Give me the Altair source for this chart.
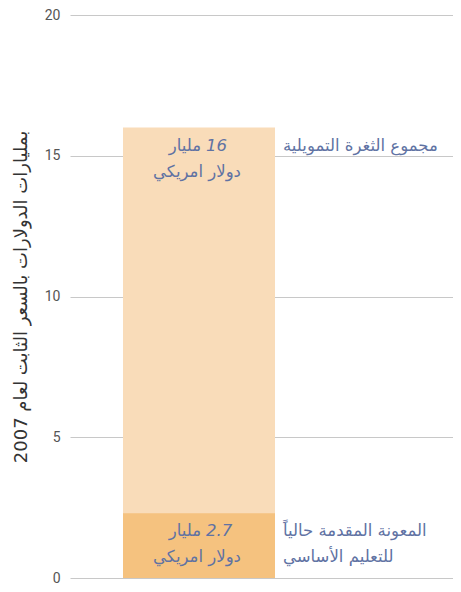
import altair as alt
import pandas as pd

# Data
series = ["مجموع الثغرة التمويلية", "المعونة المقدمة حالياً"]
values = [16, 2.3]
amount_numbers = ["16", "2.7"]
amount_word = ["مليار", "مليار"]
amount_unit = ["دولار امريكي", "دولار امريكي"]
side_labels = ["مجموع الثغرة التمويلية", "المعونة المقدمة حالياً\nللتعليم الأساسي"]
colors = ["#f9dcb9", "#f5c27f"]
y_ticks = [0, 5, 10, 15, 20]
y_title = "2007 بمليارات الدولارات بالسعر الثابت لعام"

df = pd.DataFrame({
    "series": series,
    "value": values,
    "cat": ["bar", "bar"],
    "num": amount_numbers,
    "word": amount_word,
    "unit": amount_unit,
    "side": side_labels,
    "order": [0, 1],
})

FONT = "DejaVu Sans"
TEXT_COLOR = "#6072a3"
W = 383

x_enc = alt.X("cat:N", axis=None,
              scale=alt.Scale(paddingInner=0, paddingOuter=(W / 152 - 1) / 2,
                              align=53 / (W - 152)))
y_plain = alt.Y("value:Q", stack=None)

bars = alt.Chart(df).mark_bar(size=152).encode(
    x=x_enc,
    y=alt.Y("value:Q", stack=None,
            scale=alt.Scale(domain=[0, 20], nice=False),
            axis=alt.Axis(values=y_ticks, title=y_title, grid=True, ticks=False,
                          domain=False, labelPadding=10, labelFontSize=14,
                          labelColor="#555555", labelFont="Roboto",
                          titleFont=FONT, titleFontSize=18, titleFontWeight="normal",
                          titleColor="#333333", titlePadding=14,
                          gridColor="#c8c8c8", gridWidth=1)),
    color=alt.Color("series:N", scale=alt.Scale(domain=series, range=colors), legend=None),
    order=alt.Order("order:Q"),
)

common = dict(baseline="top", font=FONT, fontSize=16.5, color=TEXT_COLOR)

word = alt.Chart(df).mark_text(align="right", dx=2, dy=10, **common).encode(
    x=x_enc, y=y_plain, text="word:N")
num = alt.Chart(df).mark_text(align="left", dx=7, dy=10, fontStyle="italic", **common).encode(
    x=x_enc, y=y_plain, text="num:N")
unit = alt.Chart(df).mark_text(align="center", dx=-2, dy=36, **common).encode(
    x=x_enc, y=y_plain, text="unit:N")

side = alt.Chart(df).mark_text(
    align="left", dy=10, lineBreak="\n", lineHeight=26, **common,
).encode(
    x=alt.value(213),
    y=y_plain,
    text="side:N",
)

chart = alt.layer(bars, word, num, unit, side).properties(
    width=W, height=563,
    autosize=alt.AutoSizeParams(type="none"),
    padding={"left": 62, "top": 7, "right": 0, "bottom": 6},
).configure_view(stroke=None)

chart.save("out.html", embed_options={"renderer": "svg", "actions": False})
